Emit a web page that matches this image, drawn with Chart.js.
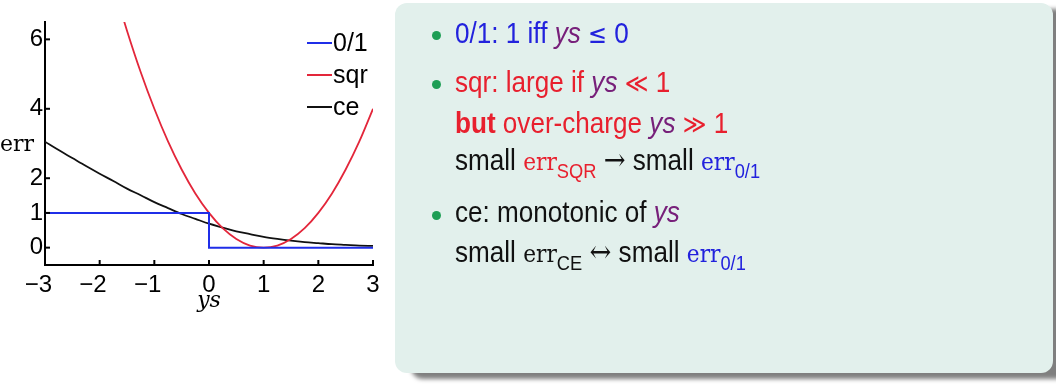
<!DOCTYPE html>
<html>
<head>
<meta charset="utf-8">
<script src="https://cdn.jsdelivr.net/npm/chart.js@4.4.1/dist/chart.umd.min.js"></script>
<style>
  html, body { margin:0; padding:0; background:#fff; width:1056px; height:384px; overflow:hidden; }
  #wrap { position:absolute; left:0; top:0; width:400px; height:330px; }
  #panel { position:absolute; left:395px; top:3px; width:658px; height:370px; background:#e2f0ec;
           border-radius:12px; box-shadow:16px 6px 4px rgba(0,0,0,0.5); }
  .ln { position:absolute; left:60px; font-family:"Liberation Sans", Arial, sans-serif; font-size:30px;
        line-height:30px; white-space:nowrap; transform:scaleX(0.87); transform-origin:0 50%; }
  .dot { position:absolute; left:37px; width:9px; height:9px; border-radius:50%; background:#1e9e55; }
  .blue { color:#2222dd; }
  .red { color:#e8202e; }
  .blk { color:#111; }
  .ys { font-style:italic; color:#77207a; }
  .m { font-family:"DejaVu Serif", serif; font-size:25px; }
  .m sub { font-family:"Liberation Sans", sans-serif; font-size:21px; vertical-align:-8px; }
  .op { font-family:"DejaVu Sans", sans-serif; font-size:26px; }
  .arr { font-family:"DejaVu Serif", serif; font-size:30px; }
</style>
</head>
<body>
<div id="wrap"><canvas id="c" width="400" height="330"></canvas></div>
<div id="panel">
  <div class="dot" style="top:28px"></div>
  <div class="ln blue" style="top:15px">0/1: 1 iff <span class="ys">ys</span> <span class="op">≤</span> 0</div>
  <div class="dot" style="top:77px"></div>
  <div class="ln red" style="top:64px">sqr: large if <span class="ys">ys</span> <span class="op">≪</span> 1</div>
  <div class="ln red" style="top:105px"><b>but</b> over-charge <span class="ys">ys</span> <span class="op">≫</span> 1</div>
  <div class="ln blk" style="top:142px">small <span class="m red">err<sub>SQR</sub></span> <span class="arr">→</span> small <span class="m blue">err<sub>0/1</sub></span></div>
  <div class="dot" style="top:208px"></div>
  <div class="ln blk" style="top:194px">ce: monotonic of <span class="ys">ys</span></div>
  <div class="ln blk" style="top:234px">small <span class="m">err<sub>CE</sub></span> <span class="arr">↔</span> small <span class="m blue">err<sub>0/1</sub></span></div>
</div>
<script>
// ---- data ----
const xTicks = [-3, -2, -1, 0, 1, 2, 3];
const yTicks = [0, 1, 2, 4, 6];

const zeroOneX = [-3, 0, 0, 3];
const zeroOneY = [1, 1, 0, 0];

const sqrX = [-1.75, -1.5, -1.25, -1, -0.75, -0.5, -0.25, 0, 0.25, 0.5, 0.75, 1, 1.25, 1.5, 1.75, 2, 2.25, 2.5, 2.75, 3];
const sqrY = [7.56, 6.25, 5.06, 4.0, 3.06, 2.25, 1.56, 1.0, 0.56, 0.25, 0.06, 0.0, 0.06, 0.25, 0.56, 1.0, 1.56, 2.25, 3.06, 4.0];

const ceX = [-3, -2.75, -2.5, -2.25, -2, -1.75, -1.5, -1.25, -1, -0.75, -0.5, -0.25, 0, 0.25, 0.5, 0.75, 1, 1.25, 1.5, 1.75, 2, 2.25, 2.5, 2.75, 3];
const ceY = [3.05, 2.81, 2.58, 2.35, 2.13, 1.92, 1.70, 1.51, 1.31, 1.14, 0.97, 0.83, 0.69, 0.58, 0.47, 0.39, 0.31, 0.25, 0.20, 0.16, 0.13, 0.10, 0.08, 0.06, 0.05];

const seriesNames = ['0/1', 'sqr', 'ce'];
const seriesColors = ['#1f2ee8', '#e3263a', '#111111'];
// ----------------------------------------

const pts = (xs, ys) => xs.map((x, i) => ({ x: x, y: ys[i] }));

const tickFont = { family: '"Liberation Sans", Arial, sans-serif', size: 24 };

const decorPlugin = {
  id: 'decor',
  afterDraw(chart) {
    const ctx = chart.ctx;
    const xs = chart.scales.x, ys = chart.scales.y;
    const area = chart.chartArea;
    ctx.save();
    ctx.strokeStyle = '#000';
    ctx.lineWidth = 2;
    // inward tick marks
    xTicks.forEach(v => {
      const px = xs.getPixelForValue(v);
      ctx.beginPath(); ctx.moveTo(px, area.bottom); ctx.lineTo(px, area.bottom - 5); ctx.stroke();
    });
    yTicks.forEach(v => {
      const py = ys.getPixelForValue(v);
      ctx.beginPath(); ctx.moveTo(area.left, py); ctx.lineTo(area.left + 5, py); ctx.stroke();
    });
    // axis titles
    ctx.fillStyle = '#000';
    ctx.font = '22px "DejaVu Serif", serif';
    ctx.textAlign = 'left';
    ctx.textBaseline = 'alphabetic';
    ctx.fillText('err', 0, ys.getPixelForValue(3) + 7);
    ctx.font = 'italic 22px "DejaVu Serif", serif';
    ctx.textAlign = 'center';
    ctx.fillText('ys', xs.getPixelForValue(0), area.bottom + 42);
    // legend
    ctx.font = '25px "Liberation Sans", Arial, sans-serif';
    ctx.textAlign = 'left';
    ctx.textBaseline = 'middle';
    chart.data.datasets.forEach((ds, i) => {
      const y = area.top + 21 + i * 32;
      const x0 = area.right - 66;
      ctx.strokeStyle = ds.borderColor;
      ctx.lineWidth = 2;
      ctx.beginPath(); ctx.moveTo(x0, y); ctx.lineTo(x0 + 25, y); ctx.stroke();
      ctx.fillStyle = '#000';
      ctx.fillText(ds.label, x0 + 26, y + 1);
    });
    ctx.restore();
  }
};

new Chart(document.getElementById('c'), {
  type: 'line',
  data: {
    datasets: [
      { label: seriesNames[0], data: pts(zeroOneX, zeroOneY), borderColor: seriesColors[0], borderWidth: 2, pointRadius: 0, tension: 0 },
      { label: seriesNames[1], data: pts(sqrX, sqrY), borderColor: seriesColors[1], borderWidth: 1.8, pointRadius: 0, cubicInterpolationMode: 'monotone' },
      { label: seriesNames[2], data: pts(ceX, ceY), borderColor: seriesColors[2], borderWidth: 1.8, pointRadius: 0, cubicInterpolationMode: 'monotone' }
    ]
  },
  options: {
    responsive: false,
    animation: false,
    devicePixelRatio: 1,
    layout: { padding: { top: 22, right: 27, bottom: 25, left: 0 } },
    plugins: { legend: { display: false }, tooltip: { enabled: false } },
    scales: {
      x: {
        type: 'linear', min: -3, max: 3,
        afterBuildTicks: s => { s.ticks = xTicks.map(v => ({ value: v })); },
        afterFit: s => { s.height = 40; },
        grid: { display: false, drawTicks: false },
        border: { display: true, color: '#000', width: 2 },
        ticks: { font: tickFont, color: '#000', padding: 6, maxRotation: 0, autoSkip: false,
                 callback: v => v < 0 ? '\u2212' + Math.abs(v) + '\u2007' : String(v) }
      },
      y: {
        type: 'linear', min: -0.5, max: 6.5,
        afterBuildTicks: s => { s.ticks = yTicks.map(v => ({ value: v })); },
        afterFit: s => { s.width = 45; },
        grid: { display: false, drawTicks: false },
        border: { display: true, color: '#000', width: 2 },
        ticks: { font: tickFont, color: '#000', padding: 2, autoSkip: false }
      }
    }
  },
  plugins: [decorPlugin]
});
</script>
</body>
</html>
